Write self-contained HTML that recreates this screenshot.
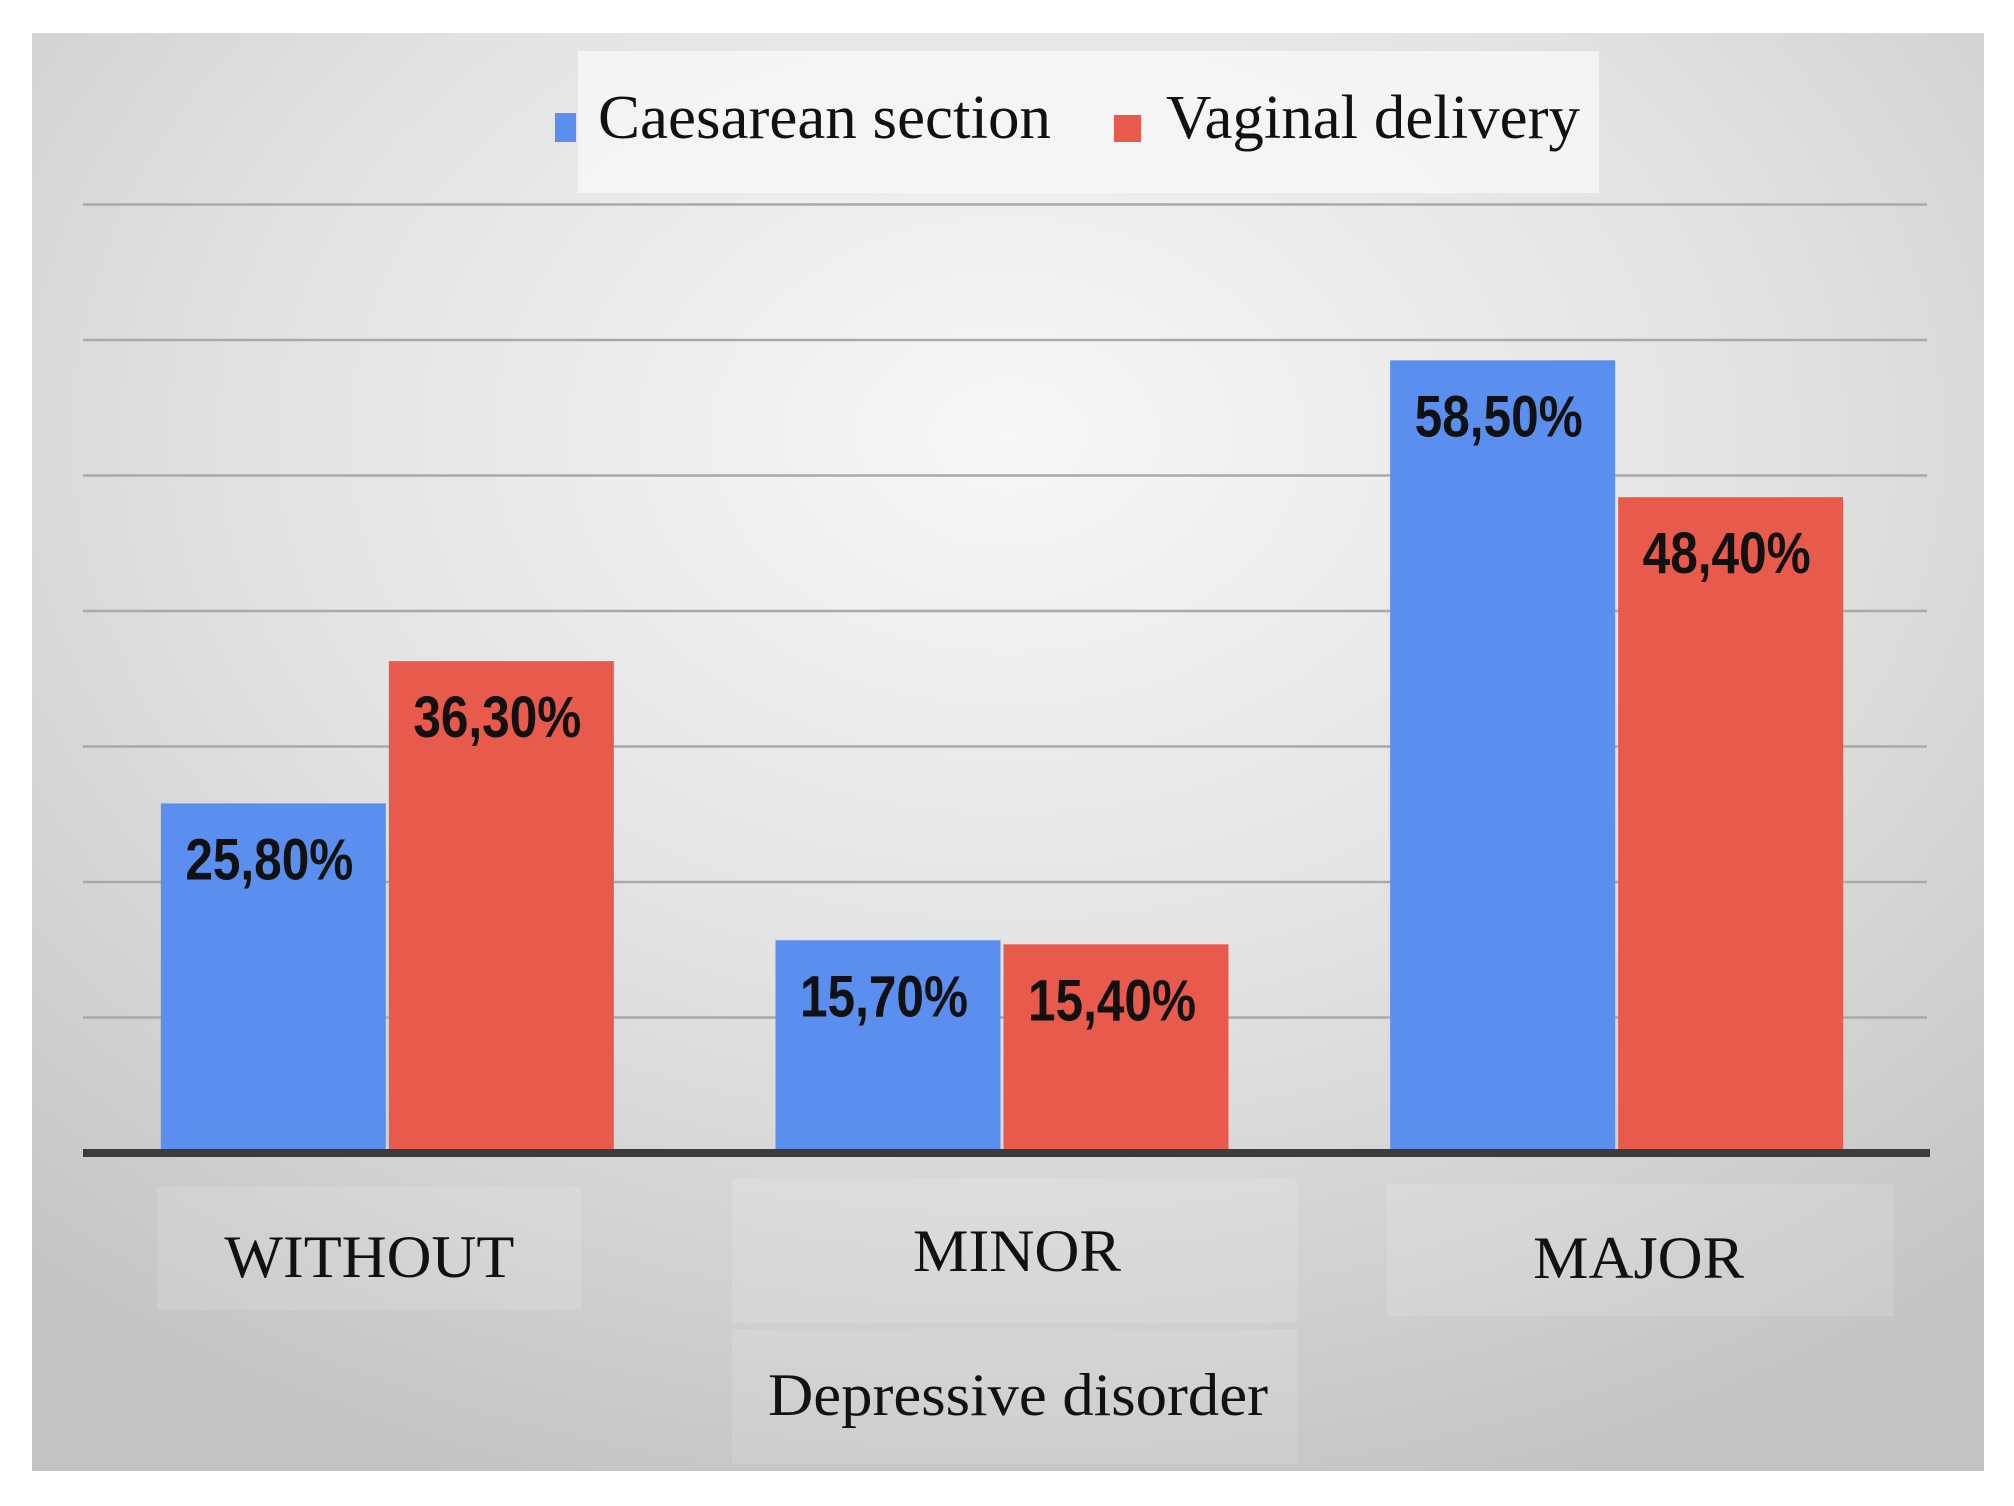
<!DOCTYPE html>
<html><head><meta charset="utf-8"><style>
html,body{margin:0;padding:0;background:#fff;}
svg{display:block;}
</style></head><body>
<svg id="chart" width="2014" height="1506" viewBox="0 0 2014 1506" xmlns="http://www.w3.org/2000/svg">
<defs>
<radialGradient id="bg" cx="50%" cy="28%" r="78%">
<stop offset="0" stop-color="#f7f7f7"/>
<stop offset="0.5" stop-color="#e2e2e2"/>
<stop offset="1" stop-color="#c3c3c3"/>
</radialGradient>
</defs>
<rect x="32" y="33" width="1952" height="1438" fill="url(#bg)"/>
<rect x="578" y="51" width="1021" height="142" fill="#f7f7f7" opacity="0.8"/>
<g id="grid"></g>
<g id="bars"></g>
<line x1="83" y1="1153" x2="1930" y2="1153" stroke="#3c3c3c" stroke-width="8"/>
<g id="cats"></g>
<rect x="732" y="1329" width="565" height="135" fill="#ffffff" opacity="0.12"/>
<text x="1018" y="1415" text-anchor="middle" font-family="Liberation Serif, serif" font-size="60" textLength="500" lengthAdjust="spacingAndGlyphs" fill="#111">Depressive disorder</text>
<g>
<g>
<rect x="555" y="113" width="21" height="29" fill="#5a8fef"/>
<text x="598" y="138" font-family="Liberation Serif, serif" font-size="62" textLength="453" lengthAdjust="spacingAndGlyphs" fill="#111">Caesarean section</text>
</g>
<g>
<rect x="1114" y="115" width="27" height="27" fill="#e85a4c"/>
<text x="1166" y="138" font-family="Liberation Serif, serif" font-size="62" textLength="414" lengthAdjust="spacingAndGlyphs" fill="#111">Vaginal delivery</text>
</g>
</g>
</svg>
<script>
const categories = ["WITHOUT", "MINOR", "MAJOR"];
const caesareanValues = [25.8, 15.7, 58.5];
const vaginalValues = [36.3, 15.4, 48.4];
const caesareanLabels = ["25,80%", "15,70%", "58,50%"];
const vaginalLabels = ["36,30%", "15,40%", "48,40%"];
const gridTicks = [10, 20, 30, 40, 50, 60, 70];

const NS = "http://www.w3.org/2000/svg";
const plotLeft = 83, plotRight = 1927, baseY = 1153, pxPerUnit = 13.55;
const groupW = (plotRight - plotLeft) / categories.length;
const barW = 225, barGap = 3, barShift = -3;
function yScale(v){ return baseY - v * pxPerUnit; }
function groupCenter(i){ return plotLeft + groupW * (i + 0.5); }
function mk(tag, attrs){ const e = document.createElementNS(NS, tag); for (const k in attrs) e.setAttribute(k, attrs[k]); return e; }

const grid = document.getElementById('grid');
gridTicks.forEach(t => {
  const l = mk('line', {x1: plotLeft, x2: plotRight, y1: yScale(t), y2: yScale(t), stroke: '#a9a9a9', 'stroke-width': 2.5});
  
  
  grid.appendChild(l);
});

const bars = document.getElementById('bars');
const series = [
  {vals: caesareanValues, labels: caesareanLabels, color: '#5a8fef', name: 'caesarean', off: -1},
  {vals: vaginalValues, labels: vaginalLabels, color: '#e85a4c', name: 'vaginal', off: 0}
];
categories.forEach((c, i) => {
  const cx = groupCenter(i) + barShift;
  series.forEach(s => {
    const x = s.off < 0 ? cx - barGap / 2 - barW : cx + barGap / 2;
    const y = yScale(s.vals[i]);
    const r = mk('rect', {x: x, y: y, width: barW, height: baseY - y, fill: s.color});
    
    
    bars.appendChild(r);
    const t = mk('text', {x: x + barW / 2 - 4, y: y + 76, 'text-anchor': 'middle', 'font-family': 'Liberation Sans Narrow, Liberation Sans, sans-serif', 'font-weight': 'bold', 'font-size': 58, textLength: 168, lengthAdjust: 'spacingAndGlyphs', fill: '#111'});
    t.textContent = s.labels[i];
    
    
    bars.appendChild(t);
  });
});

const cats = document.getElementById('cats');
const catBoxX = [157, 732, 1387];
const catBoxW = [424, 565, 507];
const catBoxY = [1187, 1179, 1184];
const catBoxH = [123, 144, 132];
const catTextY = [1277, 1271, 1278];
const catTextW = [290, 208, 211];
const catTextOff = [-21, 12, 19];
categories.forEach((c, i) => {
  const cx = groupCenter(i);
  const b = mk('rect', {x: catBoxX[i], y: catBoxY[i], width: catBoxW[i], height: catBoxH[i], fill: '#ffffff', opacity: 0.13});
  
  
  cats.appendChild(b);
  const t = mk('text', {x: cx + catTextOff[i], y: catTextY[i], 'text-anchor': 'middle', 'font-family': 'Liberation Serif, serif', 'font-size': 60, textLength: catTextW[i], lengthAdjust: 'spacingAndGlyphs', fill: '#111'});
  t.textContent = c;
  
  
  cats.appendChild(t);
});
</script>
</body></html>
